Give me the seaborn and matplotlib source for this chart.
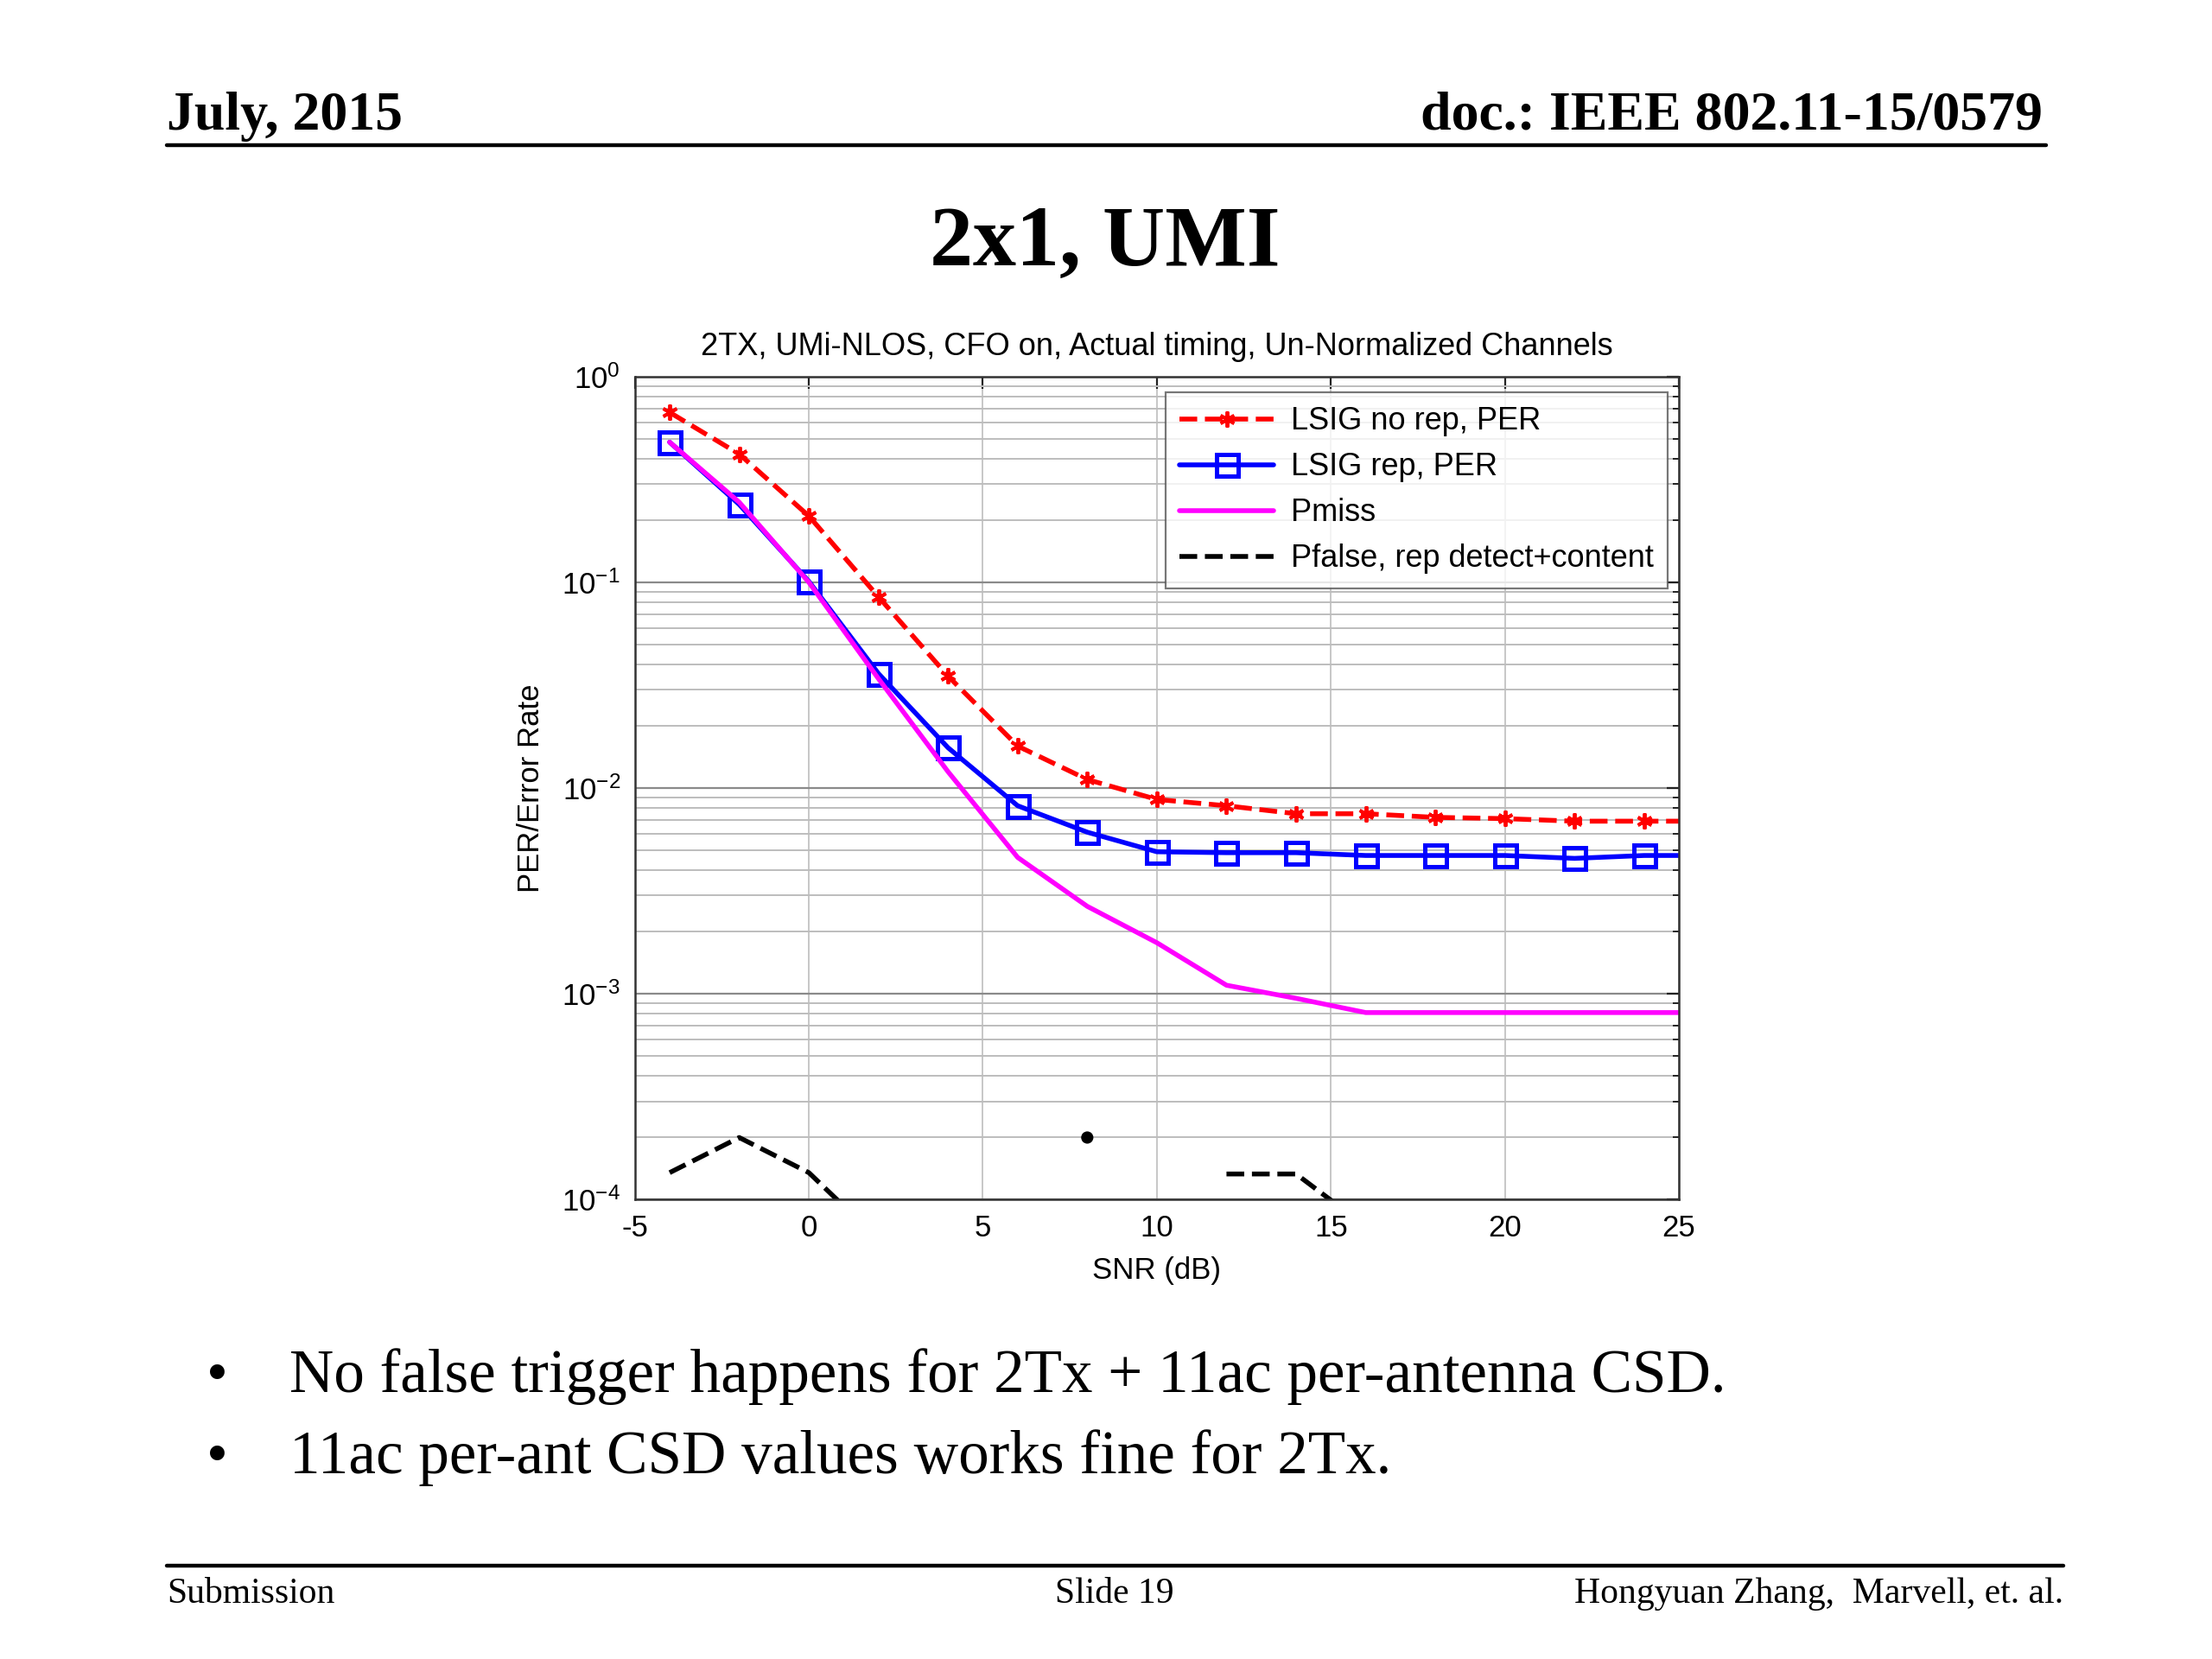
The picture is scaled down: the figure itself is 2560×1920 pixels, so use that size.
import numpy as np
import pandas as pd
import matplotlib
matplotlib.use('Agg')
import matplotlib.pyplot as plt
import seaborn as sns
from matplotlib.ticker import LogLocator, NullFormatter

### data ###
snr = [-4, -2, 0, 2, 4, 6, 8, 10, 12, 14, 16, 18, 20, 22, 24, 26]
per_norep = [0.67, 0.42, 0.21, 0.085, 0.035, 0.016, 0.011, 0.0088, 0.0082, 0.0075,
             0.0075, 0.0072, 0.0071, 0.0069, 0.0069, 0.0069]
per_rep = [0.48, 0.239, 0.101, 0.036, 0.0157, 0.0082, 0.0061, 0.0049, 0.00485, 0.00485,
           0.0047, 0.0047, 0.0047, 0.00455, 0.0047, 0.0047]
pmiss = [0.48, 0.245, 0.10, 0.034, 0.012, 0.0046, 0.00266, 0.00177, 0.0011, 0.00095,
         0.00081, 0.00081, 0.00081, 0.00081, 0.00081, 0.00081]
# Pfalse is zero at most SNRs -> only the non-zero runs are drawn
pfalse_snr = [-4, -2, 0, 2, 8, 12, 14, 16]
pfalse = [1.35e-4, 2.0e-4, 1.35e-4, 6.4e-5, 2.0e-4, 1.33e-4, 1.33e-4, 7.4e-5]
pfalse_run = [0, 0, 0, 0, 1, 2, 2, 2]

legend_labels = ['LSIG no rep, PER', 'LSIG rep, PER', 'Pmiss', 'Pfalse, rep detect+content']
bullets = ['No false trigger happens for 2Tx + 11ac per-antenna CSD.',
           '11ac per-ant CSD values works fine for 2Tx.']

sns.set_theme(style='white')
plt.rcParams['font.family'] = ['Liberation Sans', 'DejaVu Sans']
plt.rcParams['text.color'] = 'black'
plt.rcParams['axes.labelcolor'] = 'black'
plt.rcParams['axes.unicode_minus'] = False

fig = plt.figure(figsize=(12.8, 9.6), dpi=200)
ax = fig.add_axes([0.287, 0.277, 0.472, 0.496])

sns.lineplot(x=snr, y=per_norep, ax=ax, color='#ff0000', linestyle='--', lw=2.0,
             marker=(6, 2, 0), markersize=6.5, markeredgewidth=1.4, markeredgecolor='#ff0000',
             label=legend_labels[0])
sns.lineplot(x=snr, y=per_rep, ax=ax, color='#0000ff', lw=2.0,
             marker='s', markersize=9, markerfacecolor='none', markeredgewidth=1.8,
             markeredgecolor='#0000ff', label=legend_labels[1])
sns.lineplot(x=snr, y=pmiss, ax=ax, color='#ff00ff', lw=2.0, label=legend_labels[2])

pf = pd.DataFrame({'snr': pfalse_snr, 'val': pfalse, 'run': pfalse_run})
counts = pf['run'].map(pf['run'].value_counts())
sns.lineplot(data=pf[counts > 1], x='snr', y='val', units='run', estimator=None, ax=ax,
             color='black', linestyle='--', lw=2.0, label=legend_labels[3])
sns.scatterplot(data=pf[counts == 1], x='snr', y='val', ax=ax, color='black', s=26,
                edgecolor='none', legend=False)

ax.set_yscale('log')
ax.set_xlim(-5, 25)
ax.set_ylim(1e-4, 1)
ax.set_xticks(np.arange(-5, 26, 5))
ax.yaxis.set_major_locator(LogLocator(base=10, numticks=10))
ax.yaxis.set_minor_locator(LogLocator(base=10, subs=np.arange(2, 10), numticks=20))
ax.yaxis.set_minor_formatter(NullFormatter())

ax.tick_params(axis='both', which='both', direction='in', top=True, right=True,
               labelsize=12.5, colors='#222222', labelcolor='black')
ax.tick_params(axis='both', which='major', length=5, width=0.8, pad=6)
ax.tick_params(axis='y', which='minor', length=2.5, width=0.7)
for s in ax.spines.values():
    s.set_color('#333333')
    s.set_linewidth(0.9)

ax.grid(axis='x', which='major', color='#bdbdbd', lw=0.6)
ax.grid(axis='y', which='major', color='#8a8a8a', lw=0.8)
ax.grid(axis='y', which='minor', color='#bdbdbd', lw=0.7)
ax.set_axisbelow(True)

ax.set_title('2TX, UMi-NLOS, CFO on, Actual timing, Un-Normalized Channels', fontsize=13, pad=9)
ax.set_xlabel('SNR (dB)', fontsize=12.5, labelpad=6)
ax.set_ylabel('PER/Error Rate', fontsize=12.5, labelpad=7)

# one legend entry per series (the Pfalse runs share a label)
handles, labels = ax.get_legend_handles_labels()
seen = {}
for h, l in zip(handles, labels):
    seen.setdefault(l, h)
leg = ax.legend([seen[l] for l in legend_labels], legend_labels,
                loc='upper right', bbox_to_anchor=(0.989, 0.981), borderaxespad=0,
                fontsize=13, frameon=True, fancybox=False, handlelength=3.0,
                labelspacing=0.5, borderpad=0.45, handletextpad=0.55)
leg.get_frame().set_edgecolor('#555555')
leg.get_frame().set_linewidth(0.8)

### slide decorations ###
serif = ['Liberation Serif', 'DejaVu Serif']
fig.text(0.0753, 0.922, 'July, 2015', family=serif, weight='bold', fontsize=23, va='baseline')
fig.text(0.9235, 0.922, 'doc.: IEEE 802.11-15/0579', family=serif, weight='bold', fontsize=23,
         ha='right', va='baseline')
fig.add_artist(plt.Line2D([0.0753, 0.925], [0.9124, 0.9124], color='black', lw=1.6))
fig.text(0.4994, 0.84, '2x1, UMI', family=serif, weight='bold', fontsize=36, ha='center',
         va='baseline')
for i, b in enumerate(bullets):
    y = 0.161 - i * 0.049
    fig.text(0.0935, y, '\u2022', family=serif, fontsize=25.6, va='baseline')
    fig.text(0.1307, y, b, family=serif, fontsize=25.6, va='baseline')
fig.add_artist(plt.Line2D([0.0753, 0.933], [0.0561, 0.0561], color='black', lw=1.6))
fig.text(0.0753, 0.034, 'Submission', family=serif, fontsize=15, va='baseline')
fig.text(0.504, 0.034, 'Slide 19', family=serif, fontsize=15, ha='center', va='baseline')
fig.text(0.933, 0.034, 'Hongyuan Zhang,  Marvell, et. al.', family=serif, fontsize=15,
         ha='right', va='baseline')

fig.savefig('out.png', dpi=200, facecolor='white')
